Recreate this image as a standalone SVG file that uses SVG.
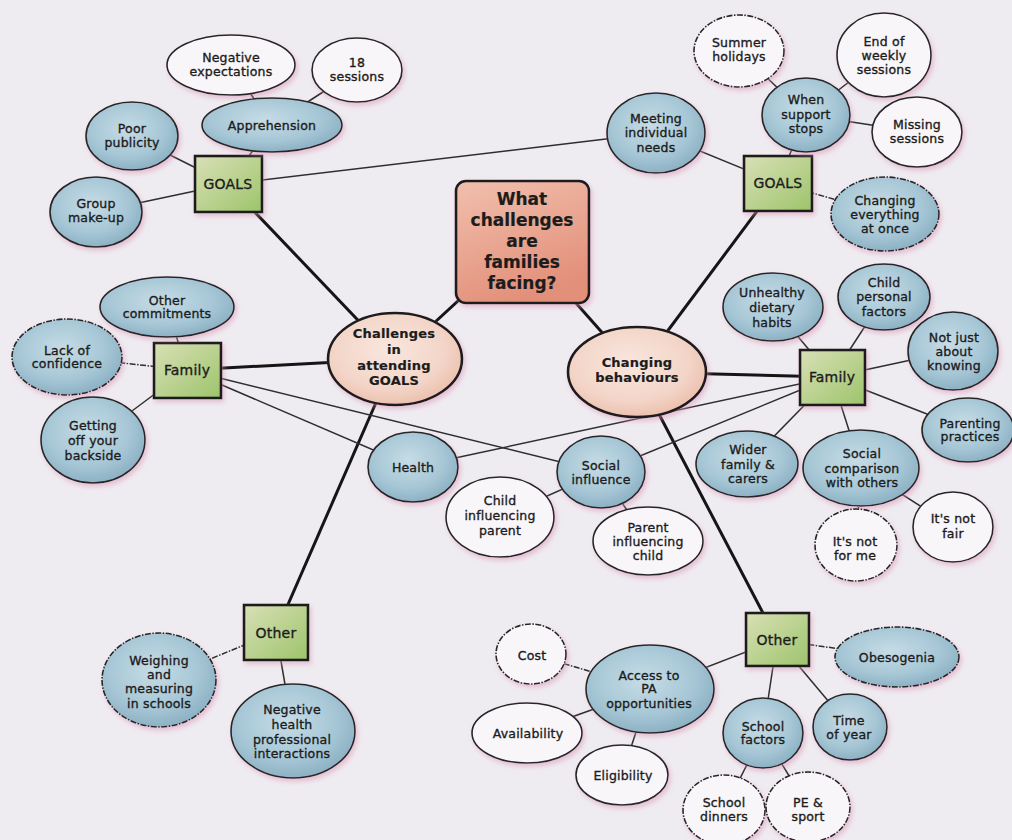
<svg xmlns="http://www.w3.org/2000/svg" width="1012" height="840" viewBox="0 0 1012 840">
  <defs>
    <radialGradient id="gBlue" cx="45%" cy="40%" r="60%">
      <stop offset="0%" stop-color="#c6dce6"/>
      <stop offset="65%" stop-color="#a7c7d6"/>
      <stop offset="100%" stop-color="#8db2c4"/>
    </radialGradient>
    <radialGradient id="gPeach" cx="45%" cy="40%" r="60%">
      <stop offset="0%" stop-color="#f9e6de"/>
      <stop offset="70%" stop-color="#f3d5c8"/>
      <stop offset="100%" stop-color="#ecc1af"/>
    </radialGradient>
    <linearGradient id="gGreen" x1="0" y1="0" x2="1" y2="1">
      <stop offset="0%" stop-color="#d9e0b6"/>
      <stop offset="100%" stop-color="#9dc46b"/>
    </linearGradient>
    <linearGradient id="gSalmon" x1="0" y1="0" x2="0.4" y2="1">
      <stop offset="0%" stop-color="#f1c0ae"/>
      <stop offset="100%" stop-color="#e3907a"/>
    </linearGradient>
    <filter id="shadow" x="-20%" y="-20%" width="150%" height="150%">
      <feDropShadow dx="2" dy="3" stdDeviation="2.5" flood-color="#d890b4" flood-opacity="0.5"/>
    </filter>
    <style>
      .thick { stroke: #151515; stroke-width: 3; fill: none; }
      .thin { stroke: #2e2e2e; stroke-width: 1.5; fill: none; }
      .dl { stroke-dasharray: 6 1.5 1.5 1.5; }
      .blue { fill: url(#gBlue); stroke: #262626; stroke-width: 1.6; filter: url(#shadow); }
      .white { fill: #f8f6f9; stroke: #262626; stroke-width: 1.6; filter: url(#shadow); }
      .dash { stroke-dasharray: 6 1.5 1.5 1.5; }
      .peach { fill: url(#gPeach); stroke: #1c1c1c; stroke-width: 2.6; filter: url(#shadow); }
      .box { fill: url(#gGreen); stroke: #1c1c1c; stroke-width: 2.6; filter: url(#shadow); }
      .core { fill: url(#gSalmon); stroke: #1c1c1c; stroke-width: 2.6; filter: url(#shadow); }
      text { font-family: "DejaVu Sans", Verdana, sans-serif; text-anchor: middle; fill: #1c1c1c; stroke: #1c1c1c; stroke-width: 0.35; letter-spacing: 0.2px; }
      .lbl { font-size: 12.5px; }
      .boxlbl { font-size: 14px; }
      .hub { font-size: 13px; font-weight: bold; stroke-width: 0.2; }
      .title { font-size: 17px; font-weight: bold; stroke-width: 0.2; letter-spacing: 0; }
    </style>
  </defs>

  <rect x="0" y="0" width="1012" height="840" fill="#efecf1"/>

  <g id="connectors">
    <!-- main spokes -->
    <line class="thick" x1="228" y1="184" x2="395" y2="359"/>
    <line class="thick" x1="778" y1="183" x2="637" y2="372"/>
    <line class="thick" x1="522" y1="242" x2="395" y2="359"/>
    <line class="thick" x1="522" y1="242" x2="637" y2="372"/>
    <line class="thick" x1="395" y1="359" x2="187" y2="370"/>
    <line class="thick" x1="637" y1="372" x2="832" y2="377"/>
    <line class="thick" x1="395" y1="359" x2="276" y2="632"/>
    <line class="thick" x1="637" y1="372" x2="777" y2="640"/>
    <!-- upper left cluster -->
    <line class="thin" x1="228" y1="184" x2="656" y2="133"/>
    <line class="thin" x1="231" y1="65" x2="272" y2="125"/>
    <line class="thin" x1="357" y1="70" x2="272" y2="125"/>
    <line class="thin" x1="272" y1="125" x2="228" y2="184"/>
    <line class="thin" x1="132" y1="136" x2="228" y2="184"/>
    <line class="thin" x1="96" y1="212" x2="228" y2="184"/>
    <!-- upper right cluster -->
    <line class="thin" x1="739" y1="51" x2="806" y2="115"/>
    <line class="thin" x1="884" y1="55" x2="806" y2="115"/>
    <line class="thin" x1="917" y1="132" x2="806" y2="115"/>
    <line class="thin" x1="806" y1="115" x2="778" y2="183"/>
    <line class="thin" x1="656" y1="133" x2="778" y2="183"/>
    <line class="thin dl" x1="778" y1="183" x2="885" y2="214"/>
    <!-- left family cluster -->
    <line class="thin" x1="167" y1="307" x2="187" y2="370"/>
    <line class="thin dl" x1="67" y1="357" x2="187" y2="370"/>
    <line class="thin" x1="93" y1="440" x2="187" y2="370"/>
    <line class="thin" x1="187" y1="370" x2="413" y2="467"/>
    <line class="thin" x1="187" y1="370" x2="601" y2="472"/>
    <!-- right family cluster -->
    <line class="thin" x1="832" y1="377" x2="413" y2="467"/>
    <line class="thin" x1="832" y1="377" x2="601" y2="472"/>
    <line class="thin" x1="832" y1="377" x2="773" y2="307"/>
    <line class="thin" x1="832" y1="377" x2="884" y2="297"/>
    <line class="thin" x1="832" y1="377" x2="953" y2="351"/>
    <line class="thin" x1="832" y1="377" x2="968" y2="430"/>
    <line class="thin" x1="832" y1="377" x2="747" y2="464"/>
    <line class="thin" x1="832" y1="377" x2="861" y2="468"/>
    <line class="thin" x1="861" y1="468" x2="953" y2="527"/>
    <line class="thin dl" x1="861" y1="468" x2="856" y2="545"/>
    <line class="thin" x1="601" y1="472" x2="500" y2="517"/>
    <line class="thin" x1="601" y1="472" x2="648" y2="541"/>
    <!-- lower left cluster -->
    <line class="thin dl" x1="276" y1="632" x2="159" y2="680"/>
    <line class="thin" x1="276" y1="632" x2="293" y2="731"/>
    <!-- lower right cluster -->
    <line class="thin" x1="777" y1="640" x2="650" y2="689"/>
    <line class="thin dl" x1="777" y1="640" x2="897" y2="657"/>
    <line class="thin" x1="777" y1="640" x2="763" y2="733"/>
    <line class="thin" x1="777" y1="640" x2="850" y2="727"/>
    <line class="thin dl" x1="650" y1="689" x2="531" y2="654"/>
    <line class="thin" x1="650" y1="689" x2="527" y2="733"/>
    <line class="thin" x1="650" y1="689" x2="622" y2="775"/>
    <line class="thin" x1="763" y1="733" x2="724" y2="810"/>
    <line class="thin" x1="763" y1="733" x2="808" y2="807"/>
  </g>

  <g id="nodes">
    <g id="question">
      <rect class="core" x="456" y="181" width="133" height="122" rx="10"/>
      <text class="title" x="522" y="205">What</text>
      <text class="title" x="522" y="226">challenges</text>
      <text class="title" x="522" y="247">are</text>
      <text class="title" x="522" y="268">families</text>
      <text class="title" x="522" y="289">facing?</text>
    </g>
    <g id="attending">
      <ellipse class="peach" cx="395" cy="359" rx="67" ry="46"/>
      <text class="hub" x="394" y="338">Challenges</text>
      <text class="hub" x="394" y="354">in</text>
      <text class="hub" x="394" y="370">attending</text>
      <text class="hub" x="394" y="385">GOALS</text>
    </g>
    <g id="changing">
      <ellipse class="peach" cx="637" cy="372" rx="69" ry="45"/>
      <text class="hub" x="637" y="367">Changing</text>
      <text class="hub" x="637" y="382">behaviours</text>
    </g>

    <!-- category boxes -->
    <g id="goals-left">
      <rect class="box" x="195" y="156" width="67" height="56"/>
      <text class="boxlbl" x="228" y="189">GOALS</text>
    </g>
    <g id="goals-right">
      <rect class="box" x="744" y="156" width="68" height="55"/>
      <text class="boxlbl" x="778" y="188">GOALS</text>
    </g>
    <g id="family-left">
      <rect class="box" x="154" y="343" width="67" height="55"/>
      <text class="boxlbl" x="187" y="375">Family</text>
    </g>
    <g id="family-right">
      <rect class="box" x="800" y="350" width="65" height="55"/>
      <text class="boxlbl" x="832" y="382">Family</text>
    </g>
    <g id="other-left">
      <rect class="box" x="244" y="605" width="64" height="55"/>
      <text class="boxlbl" x="276" y="638">Other</text>
    </g>
    <g id="other-right">
      <rect class="box" x="746" y="613" width="63" height="53"/>
      <text class="boxlbl" x="777" y="645">Other</text>
    </g>

    <!-- upper left -->
    <g id="negative-expectations">
      <ellipse class="white" cx="231" cy="65" rx="64" ry="30"/>
      <text class="lbl" font-size="11.5" x="231" y="62">Negative</text>
      <text class="lbl" font-size="11.5" x="231" y="76">expectations</text>
    </g>
    <g id="sessions-18">
      <ellipse class="white" cx="357" cy="70" rx="45" ry="32"/>
      <text class="lbl" font-size="13.5" x="357" y="67">18</text>
      <text class="lbl" font-size="13.5" x="357" y="81">sessions</text>
    </g>
    <g id="apprehension">
      <ellipse class="blue" cx="272" cy="125" rx="70" ry="27"/>
      <text class="lbl" x="272" y="129.5">Apprehension</text>
    </g>
    <g id="poor-publicity">
      <ellipse class="blue" cx="132" cy="136" rx="46" ry="34"/>
      <text class="lbl" font-size="12.2" x="132" y="133">Poor</text>
      <text class="lbl" font-size="12.2" x="132" y="147">publicity</text>
    </g>
    <g id="group-makeup">
      <ellipse class="blue" cx="96" cy="212" rx="46" ry="35"/>
      <text class="lbl" font-size="12.3" x="96" y="208">Group</text>
      <text class="lbl" font-size="12.3" x="96" y="222">make-up</text>
    </g>

    <!-- upper right -->
    <g id="summer-holidays">
      <ellipse class="white dash" cx="739" cy="51" rx="45" ry="36"/>
      <text class="lbl" font-size="11.5" x="739" y="47">Summer</text>
      <text class="lbl" font-size="11.5" x="739" y="61">holidays</text>
    </g>
    <g id="end-weekly">
      <ellipse class="white" cx="884" cy="55" rx="47" ry="42"/>
      <text class="lbl" font-size="12" x="884" y="46">End of</text>
      <text class="lbl" font-size="12" x="884" y="60">weekly</text>
      <text class="lbl" font-size="12" x="884" y="74">sessions</text>
    </g>
    <g id="support-stops">
      <ellipse class="blue" cx="806" cy="115" rx="44" ry="37"/>
      <text class="lbl" font-size="13" x="806" y="103.5">When</text>
      <text class="lbl" font-size="13" x="806" y="118.5">support</text>
      <text class="lbl" font-size="13" x="806" y="132.5">stops</text>
    </g>
    <g id="missing-sessions">
      <ellipse class="white" cx="917" cy="132" rx="45" ry="35"/>
      <text class="lbl" font-size="13.5" x="917" y="129">Missing</text>
      <text class="lbl" font-size="13.5" x="917" y="143">sessions</text>
    </g>
    <g id="individual-needs">
      <ellipse class="blue" cx="656" cy="133" rx="49" ry="40"/>
      <text class="lbl" font-size="11.3" x="656" y="122.5">Meeting</text>
      <text class="lbl" font-size="11.3" x="656" y="137">individual</text>
      <text class="lbl" font-size="11.3" x="656" y="151.5">needs</text>
    </g>
    <g id="everything-at-once">
      <ellipse class="blue dash" cx="885" cy="214" rx="54" ry="37"/>
      <text class="lbl" x="885" y="204.5">Changing</text>
      <text class="lbl" x="885" y="218.5">everything</text>
      <text class="lbl" x="885" y="232.5">at once</text>
    </g>

    <!-- left family -->
    <g id="other-commitments">
      <ellipse class="blue" cx="167" cy="307" rx="67" ry="30"/>
      <text class="lbl" x="167" y="304.5">Other</text>
      <text class="lbl" x="167" y="317.5">commitments</text>
    </g>
    <g id="lack-confidence">
      <ellipse class="blue dash" cx="67" cy="357" rx="55" ry="38"/>
      <text class="lbl" font-size="11.4" x="67" y="354.5">Lack of</text>
      <text class="lbl" font-size="11.4" x="67" y="367.5">confidence</text>
    </g>
    <g id="getting-off">
      <ellipse class="blue" cx="93" cy="440" rx="52" ry="43"/>
      <text class="lbl" font-size="12.8" x="93" y="429.5">Getting</text>
      <text class="lbl" font-size="12.8" x="93" y="444.5">off your</text>
      <text class="lbl" font-size="12.8" x="93" y="459.5">backside</text>
    </g>
    <g id="health">
      <ellipse class="blue" cx="413" cy="467" rx="45" ry="35"/>
      <text class="lbl" font-size="12.3" x="413" y="471.5">Health</text>
    </g>
    <g id="social-influence">
      <ellipse class="blue" cx="601" cy="472" rx="44" ry="36"/>
      <text class="lbl" font-size="12.8" x="601" y="469.5">Social</text>
      <text class="lbl" font-size="12.8" x="601" y="483.5">influence</text>
    </g>
    <g id="child-influencing">
      <ellipse class="white" cx="500" cy="517" rx="54" ry="40"/>
      <text class="lbl" font-size="11.6" x="500" y="504.5">Child</text>
      <text class="lbl" font-size="11.6" x="500" y="519.5">influencing</text>
      <text class="lbl" font-size="11.6" x="500" y="534.5">parent</text>
    </g>
    <g id="parent-influencing">
      <ellipse class="white" cx="648" cy="541" rx="55" ry="34"/>
      <text class="lbl" font-size="11.4" x="648" y="531.5">Parent</text>
      <text class="lbl" font-size="11.4" x="648" y="545.5">influencing</text>
      <text class="lbl" font-size="11.4" x="648" y="559.5">child</text>
    </g>

    <!-- right family -->
    <g id="dietary-habits">
      <ellipse class="blue" cx="773" cy="307" rx="50" ry="34"/>
      <text class="lbl" font-size="12.6" x="772" y="296.5">Unhealthy</text>
      <text class="lbl" font-size="12.6" x="772" y="311.5">dietary</text>
      <text class="lbl" font-size="12.6" x="772" y="326.5">habits</text>
    </g>
    <g id="child-personal">
      <ellipse class="blue" cx="884" cy="297" rx="46" ry="33"/>
      <text class="lbl" font-size="13.2" x="884" y="286.5">Child</text>
      <text class="lbl" font-size="13.2" x="884" y="300.5">personal</text>
      <text class="lbl" font-size="13.2" x="884" y="315.5">factors</text>
    </g>
    <g id="not-just-knowing">
      <ellipse class="blue" cx="953" cy="351" rx="45" ry="39"/>
      <text class="lbl" font-size="11.6" x="954" y="341.5">Not just</text>
      <text class="lbl" font-size="11.6" x="954" y="355.5">about</text>
      <text class="lbl" font-size="11.6" x="954" y="369.5">knowing</text>
    </g>
    <g id="parenting-practices">
      <ellipse class="blue" cx="968" cy="430" rx="46" ry="32"/>
      <text class="lbl" font-size="12.8" x="970" y="427.5">Parenting</text>
      <text class="lbl" font-size="12.8" x="970" y="440.5">practices</text>
    </g>
    <g id="wider-family">
      <ellipse class="blue" cx="747" cy="464" rx="51" ry="33"/>
      <text class="lbl" font-size="12.2" x="748" y="453.5">Wider</text>
      <text class="lbl" font-size="12.2" x="748" y="468.5">family &amp;</text>
      <text class="lbl" font-size="12.2" x="748" y="482.5">carers</text>
    </g>
    <g id="social-comparison">
      <ellipse class="blue" cx="861" cy="468" rx="58" ry="38"/>
      <text class="lbl" font-size="11.8" x="862" y="457.5">Social</text>
      <text class="lbl" font-size="11.8" x="862" y="472.5">comparison</text>
      <text class="lbl" font-size="11.8" x="862" y="486.5">with others</text>
    </g>
    <g id="not-fair">
      <ellipse class="white" cx="953" cy="527" rx="40" ry="35"/>
      <text class="lbl" font-size="12.8" x="953" y="522.5">It's not</text>
      <text class="lbl" font-size="12.8" x="953" y="537.5">fair</text>
    </g>
    <g id="not-for-me">
      <ellipse class="white dash" cx="856" cy="545" rx="41" ry="36"/>
      <text class="lbl" x="855" y="545.5">It's not</text>
      <text class="lbl" x="855" y="559.5">for me</text>
    </g>

    <!-- lower left -->
    <g id="weighing">
      <ellipse class="blue dash" cx="159" cy="680" rx="57" ry="47"/>
      <text class="lbl" font-size="12.3" x="159" y="664.5">Weighing</text>
      <text class="lbl" font-size="12.3" x="159" y="678.5">and</text>
      <text class="lbl" font-size="12.3" x="159" y="693">measuring</text>
      <text class="lbl" font-size="12.3" x="159" y="707.5">in schools</text>
    </g>
    <g id="health-professional">
      <ellipse class="blue" cx="293" cy="731" rx="62" ry="47"/>
      <text class="lbl" font-size="11.8" x="292" y="713.5">Negative</text>
      <text class="lbl" font-size="11.8" x="292" y="728.5">health</text>
      <text class="lbl" font-size="11.8" x="292" y="743.5">professional</text>
      <text class="lbl" font-size="11.8" x="292" y="757.5">interactions</text>
    </g>

    <!-- lower right -->
    <g id="obesogenia">
      <ellipse class="blue dash" cx="897" cy="657" rx="62" ry="30"/>
      <text class="lbl" font-size="13.2" x="897" y="661.5">Obesogenia</text>
    </g>
    <g id="pa-access">
      <ellipse class="blue" cx="650" cy="689" rx="64" ry="44"/>
      <text class="lbl" font-size="12.8" x="649" y="679.5">Access to</text>
      <text class="lbl" font-size="12.8" x="649" y="693">PA</text>
      <text class="lbl" font-size="11.6" x="649" y="707.5">opportunities</text>
    </g>
    <g id="cost">
      <ellipse class="white dash" cx="531" cy="654" rx="35" ry="30"/>
      <text class="lbl" font-size="13.6" x="532" y="659.5">Cost</text>
    </g>
    <g id="availability">
      <ellipse class="white" cx="527" cy="733" rx="55" ry="30"/>
      <text class="lbl" font-size="12.1" x="528" y="737.5">Availability</text>
    </g>
    <g id="eligibility">
      <ellipse class="white" cx="622" cy="775" rx="46" ry="30"/>
      <text class="lbl" font-size="12.1" x="623" y="779.5">Eligibility</text>
    </g>
    <g id="school-factors">
      <ellipse class="blue" cx="763" cy="733" rx="40" ry="35"/>
      <text class="lbl" font-size="13.3" x="763" y="730.5">School</text>
      <text class="lbl" font-size="13.3" x="763" y="744">factors</text>
    </g>
    <g id="time-of-year">
      <ellipse class="blue" cx="850" cy="727" rx="37" ry="33"/>
      <text class="lbl" font-size="12.8" x="849" y="724.5">Time</text>
      <text class="lbl" font-size="12.8" x="849" y="738.5">of year</text>
    </g>
    <g id="school-dinners">
      <ellipse class="white dash" cx="724" cy="810" rx="41" ry="35"/>
      <text class="lbl" font-size="13" x="724" y="806.5">School</text>
      <text class="lbl" font-size="13" x="724" y="820.5">dinners</text>
    </g>
    <g id="pe-sport">
      <ellipse class="white dash" cx="808" cy="807" rx="42" ry="35"/>
      <text class="lbl" font-size="13.4" x="808" y="806.5">PE &amp;</text>
      <text class="lbl" font-size="13.4" x="808" y="820.5">sport</text>
    </g>
  </g>
</svg>
